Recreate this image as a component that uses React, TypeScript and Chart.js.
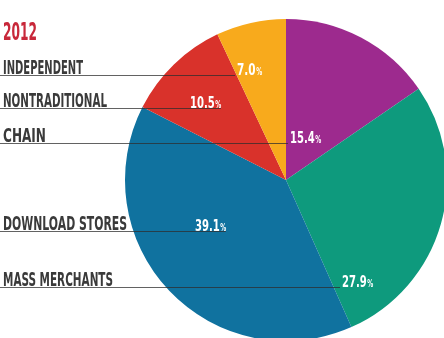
import React, { useEffect, useRef } from "react";
import { Chart, registerables } from "chart.js";

Chart.register(...registerables);

const title = "2012";
const categories = ["Chain", "Mass Merchants", "Download Stores", "Nontraditional", "Independent"];
const shares = [15.4, 27.9, 39.1, 10.5, 7.0];
const colors = ["#9d2a8e", "#0e9a7d", "#10729f", "#d9322b", "#f8aa1c"];

// left-hand legend order (top to bottom)
const legendOrder = ["Independent", "Nontraditional", "Chain", "Download Stores", "Mass Merchants"];

// annotation layout, relative to pie centre / radius
const layout: Record<string, { fy: number; fx: number; lineEnd: number }> = {
  Independent: { fy: -0.652, fx: -0.304, lineEnd: 0 },
  Nontraditional: { fy: -0.447, fx: -0.596, lineEnd: 1 },
  Chain: { fy: -0.23, fx: 0.025, lineEnd: 0 },
  "Download Stores": { fy: 0.317, fx: -0.565, lineEnd: 1 },
  "Mass Merchants": { fy: 0.665, fx: 0.348, lineEnd: 0 },
};
const legendWidths: Record<string, number> = {
  Independent: 80,
  Nontraditional: 104,
  Chain: 43,
  "Download Stores": 124,
  "Mass Merchants": 110,
};

const FONT = '"DejaVu Sans Condensed", "DejaVu Sans", sans-serif';

function drawSqueezed(ctx: CanvasRenderingContext2D, text: string, x: number, y: number, targetW: number) {
  const w = ctx.measureText(text).width;
  const sx = targetW / w;
  ctx.save();
  ctx.translate(x, y);
  ctx.scale(sx, 1);
  ctx.fillText(text, 0, 0);
  ctx.restore();
}

const annotations = {
  id: "annotations",
  afterDraw(chart: any) {
    const ctx: CanvasRenderingContext2D = chart.ctx;
    const meta = chart.getDatasetMeta(0);
    const arc0 = meta.data[0];
    const cx = arc0.x;
    const cy = arc0.y;
    const r = arc0.outerRadius;

    // title
    ctx.save();
    ctx.fillStyle = "#c8283a";
    ctx.font = `bold 24px ${FONT}`;
    ctx.textBaseline = "alphabetic";
    drawSqueezed(ctx, title, 3, 40, 34);
    ctx.restore();

    legendOrder.forEach((name) => {
      const idx = categories.indexOf(name);
      const L = layout[name];
      const lineY = Math.round(cy + L.fy * r) + 0.5;
      const labelX = cx + L.fx * r;

      // percentage label
      ctx.save();
      ctx.font = `bold 16px ${FONT}`;
      const num = shares[idx].toFixed(1);
      const numW = num.length * 6.2;
      ctx.textBaseline = "alphabetic";
      ctx.fillStyle = "#ffffff";
      drawSqueezed(ctx, num, labelX, lineY - 1, numW);
      ctx.font = `bold 10px ${FONT}`;
      drawSqueezed(ctx, "%", labelX + numW + 0.5, lineY - 1, 6);
      ctx.restore();

      const endX = L.lineEnd ? labelX + numW + 6 : labelX - 2;

      // leader line
      ctx.save();
      ctx.strokeStyle = "rgba(45,45,45,0.75)";
      ctx.lineWidth = 1;
      ctx.beginPath();
      ctx.moveTo(0, lineY);
      ctx.lineTo(endX, lineY);
      ctx.stroke();
      ctx.restore();

      // category label
      ctx.save();
      ctx.fillStyle = "#3a3a3a";
      ctx.font = `bold 19px ${FONT}`;
      ctx.textBaseline = "alphabetic";
      drawSqueezed(ctx, name.toUpperCase(), 3, lineY - 2, legendWidths[name]);
      ctx.restore();
    });
  },
};

export default function App() {
  const ref = useRef<HTMLCanvasElement | null>(null);
  useEffect(() => {
    if (!ref.current) return;
    const chart = new Chart(ref.current, {
      type: "pie",
      data: {
        labels: categories,
        datasets: [
          {
            data: shares,
            backgroundColor: colors,
            borderWidth: 0,
            radius: 161,
          } as any,
        ],
      },
      options: {
        responsive: false,
        animation: false,
        devicePixelRatio: 1,
        layout: { padding: { left: 200, right: 72, top: 30, bottom: 8 } },
        plugins: {
          legend: { display: false },
          tooltip: { enabled: false },
          title: { display: false },
        },
      },
      plugins: [annotations],
    });
    return () => chart.destroy();
  }, []);
  return (
    <div style={{ position: "fixed", left: 0, top: 0, width: 444, height: 338, background: "#ffffff" }}>
      <canvas ref={ref} width={444} height={338} style={{ display: "block", width: 444, height: 338 }} />
    </div>
  );
}
